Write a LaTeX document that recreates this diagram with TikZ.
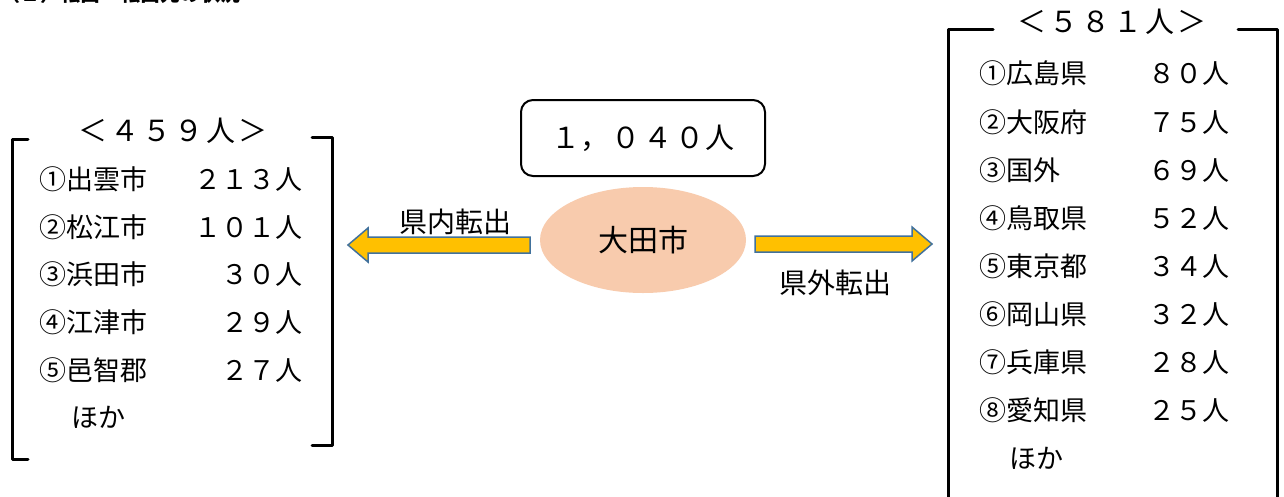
\documentclass[tikz,border=0pt]{standalone}
\usepackage{fontspec}
\usetikzlibrary{shapes.geometric}
\setmainfont{Noto Sans CJK JP}
\begin{document}
\begin{tikzpicture}[x=1pt,y=-1pt,
  item/.style={inner sep=0pt,yshift=-5pt,font=\fontsize{27}{27}\selectfont,text height=0.88em,text depth=0.12em},
  head/.style={inner sep=0pt,yshift=-6pt,font=\fontsize{29}{29}\selectfont,text height=0.88em,text depth=0.12em},
  brk/.style={line width=3pt,line cap=round,line join=round},
  blockarrow/.style={fill={rgb,255:red,255;green,192;blue,0},draw={rgb,255:red,65;green,113;blue,156},line width=1.5pt,line join=miter},
  lbl/.style={inner sep=0pt,font=\fontsize{28}{28}\selectfont}]
\useasboundingbox (0,0) rectangle (1284,496);
\fill[white] (0,0) rectangle (1284,496);
% clipped page heading
\node[anchor=base west,inner sep=0pt,font=\fontsize{20}{20}\selectfont\bfseries] (title) at (0,1.5) {（２）転出　転出先の状況};
% left list
\draw[brk] (28,139) -- (12,139) -- (12,459) -- (28,459);
\draw[brk] (312,137) -- (332,137) -- (332,445) -- (312,445);
\node[head] (lh) at (173,132) {＜\kern3pt４\kern3pt５\kern3pt９\kern3pt人\kern3pt＞};
\foreach \n/\v/\y [count=\i] in {①出雲市/２１３人/181,②松江市/１０１人/229,③浜田市/３０人/276,④江津市/２９人/324,⑤邑智郡/２７人/372}{
  \node[item,anchor=west] (ln\i) at (39,\y) {\n};
  \node[item,anchor=east] (lv\i) at (303,\y) {\v};
}
\node[item,anchor=west] (lo) at (71,419) {ほか};
% right list
\draw[brk] (993,29) -- (948,29) -- (948,500);
\draw[brk] (1238,29) -- (1277,29) -- (1277,500);
\node[head] (rh) at (1112,23) {＜\kern3pt５\kern3pt８\kern3pt１\kern3pt人\kern3pt＞};
\foreach \n/\v/\y [count=\i] in {①広島県/８０人/75,②大阪府/７５人/124,③国外/６９人/172,④鳥取県/５２人/220,⑤東京都/３４人/268,⑥岡山県/３２人/316,⑦兵庫県/２８人/364,⑧愛知県/２５人/412}{
  \node[item,anchor=west] (rn\i) at (979,\y) {\n};
  \node[item,anchor=east] (rv\i) at (1230,\y) {\v};
}
\node[item,anchor=west] (ro) at (1009,460) {ほか};
% centre
\node[draw,line width=2pt,rounded corners=12pt,minimum width=244pt,minimum height=76pt,inner sep=0pt,font=\fontsize{29}{29}\selectfont] (total) at (643,138) {１，\kern3pt０\kern3pt４\kern3pt０\kern1pt人};
\node[ellipse,fill={rgb,255:red,248;green,203;blue,173},minimum width=206pt,minimum height=106pt,inner sep=0pt,font=\fontsize{30}{30}\selectfont] (city) at (643,240) {大田市};
% arrows
\draw[blockarrow] (530,237) -- (368,237) -- (368,228) -- (348,245) -- (368,262) -- (368,253) -- (530,253) -- cycle;
\draw[blockarrow] (755,236) -- (912,236) -- (912,227) -- (932,244) -- (912,261) -- (912,252) -- (755,252) -- cycle;
\node[lbl] (lin) at (455,222) {県内転出};
\node[lbl] (lout) at (835,283) {県外転出};
\end{tikzpicture}
\end{document}
